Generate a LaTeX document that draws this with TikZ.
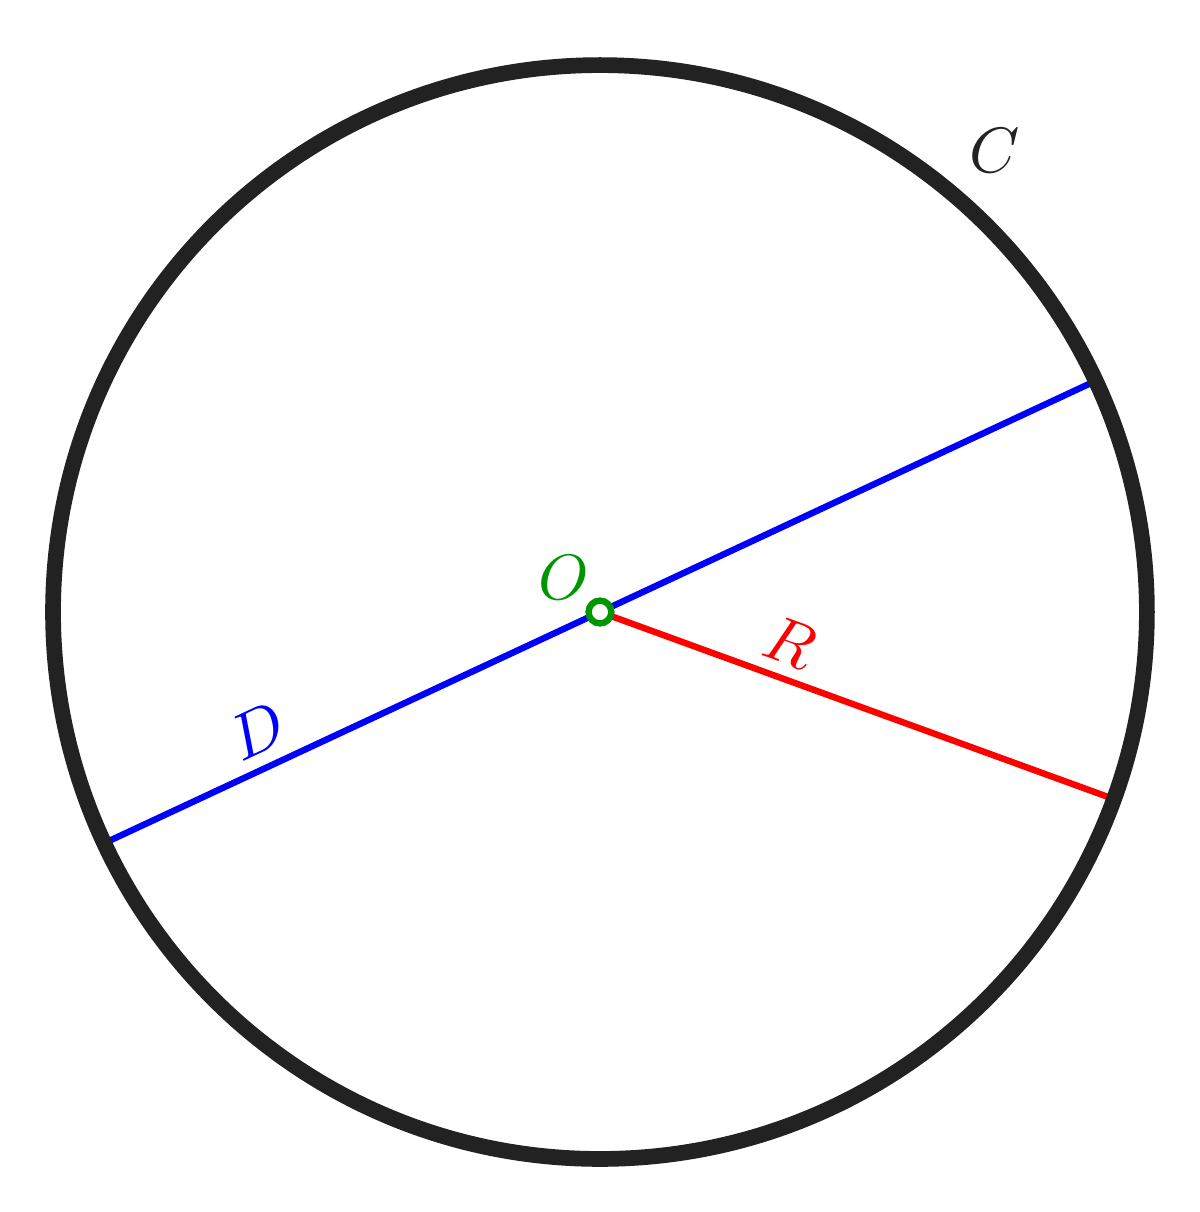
\documentclass[tikz,border=0pt]{standalone}
\tikzset{>=latex}
\usetikzlibrary{calc}
\newcommand{\rad}{3}
\definecolor{circgray}{RGB}{34,34,34}
\definecolor{ogreen}{RGB}{0,150,0}

\begin{document}
\begin{tikzpicture}[scale=1]
  \useasboundingbox (-3.291,-3.291) rectangle (3.291,3.357);
  % centre
  \coordinate (O) at (0,0);
  \coordinate (d1) at (205:\rad);
  \coordinate (d2) at (25:\rad);
  \coordinate (r1) at (-20:\rad);
  % diameter and radius
  \draw[line width=1pt,blue] (d1) -- node[above,sloped,inner sep=1.8pt,pos=0.17]{$D$} (d2);
  \draw[line width=1pt,red] (O) -- node[above,sloped,inner sep=1.8pt,pos=0.345]{$R$} (r1);
  % circle
  \draw[line width=2.45pt,circgray] (O) circle (\rad);
  \node[circgray] (Clabel) at (49.5:3.33) {$C$};
  % centre point
  \node[circle,draw=ogreen,fill=white,line width=1pt,inner sep=0pt,minimum size=0.125cm] (Opt) at (O) {};
  \node[ogreen] (Olabel) at (-0.2,0.19) {$O$};
\end{tikzpicture}
\end{document}
